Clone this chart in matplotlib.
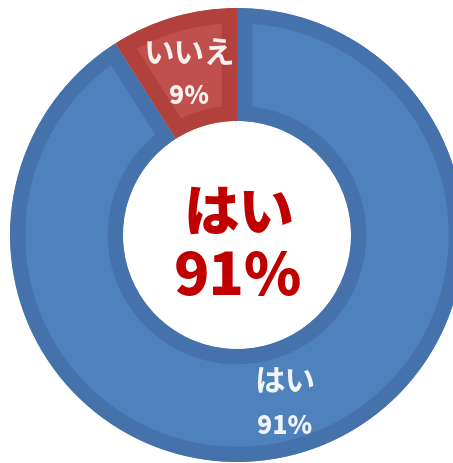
import numpy as np
import matplotlib.pyplot as plt

plt.rcParams['font.family'] = ['Noto Sans CJK JP', 'DejaVu Sans']

labels = ['はい', 'いいえ']
values = [91, 9]
colors = ['#4F81BD', '#C0504D']
edge_colors = ['#4672AB', '#B2403D']

fig = plt.figure(figsize=(4.53, 4.63), dpi=100)
ax = fig.add_axes([0, 0, 1, 1])

cx, cy = 237, 228   # pixels, y from bottom
R = 227
ring = 113

wedges, _ = ax.pie(values, startangle=90, counterclock=False, colors=colors,
                   center=(cx, cy), radius=R,
                   wedgeprops=dict(width=ring, linewidth=0))

# darker inner border like the excel bevel
for w, ec in zip(wedges, edge_colors):
    w.set_edgecolor(ec)
    w.set_linewidth(22)
    w.set_clip_on(True)
    w.set_clip_path(w)

# slice labels
for w, lab, v in zip(wedges, labels, values):
    ang = np.deg2rad((w.theta1 + w.theta2) / 2)
    r = R * 0.755
    x = cx + r * np.cos(ang)
    y = cy + r * np.sin(ang)
    ax.text(x, y + 17, lab, color='white', fontsize=22, fontweight='bold',
            ha='center', va='center', alpha=0.93)
    ax.text(x, y - 26, f'{v}%', color='white', fontsize=18, fontweight='heavy',
            ha='center', va='center', alpha=0.93)

# big center text
ax.text(cx + 2, cy + 21, labels[0], color='#C00000', fontsize=40, fontweight='black',
        ha='center', va='center')
ax.text(cx + 1, cy - 43, f'{values[0]}%', color='#C00000', fontsize=42, fontweight='black',
        ha='center', va='center')

ax.set_xlim(0, 453)
ax.set_ylim(0, 463)
ax.set_aspect('equal')
ax.axis('off')

fig.savefig('out.png', dpi=100)
